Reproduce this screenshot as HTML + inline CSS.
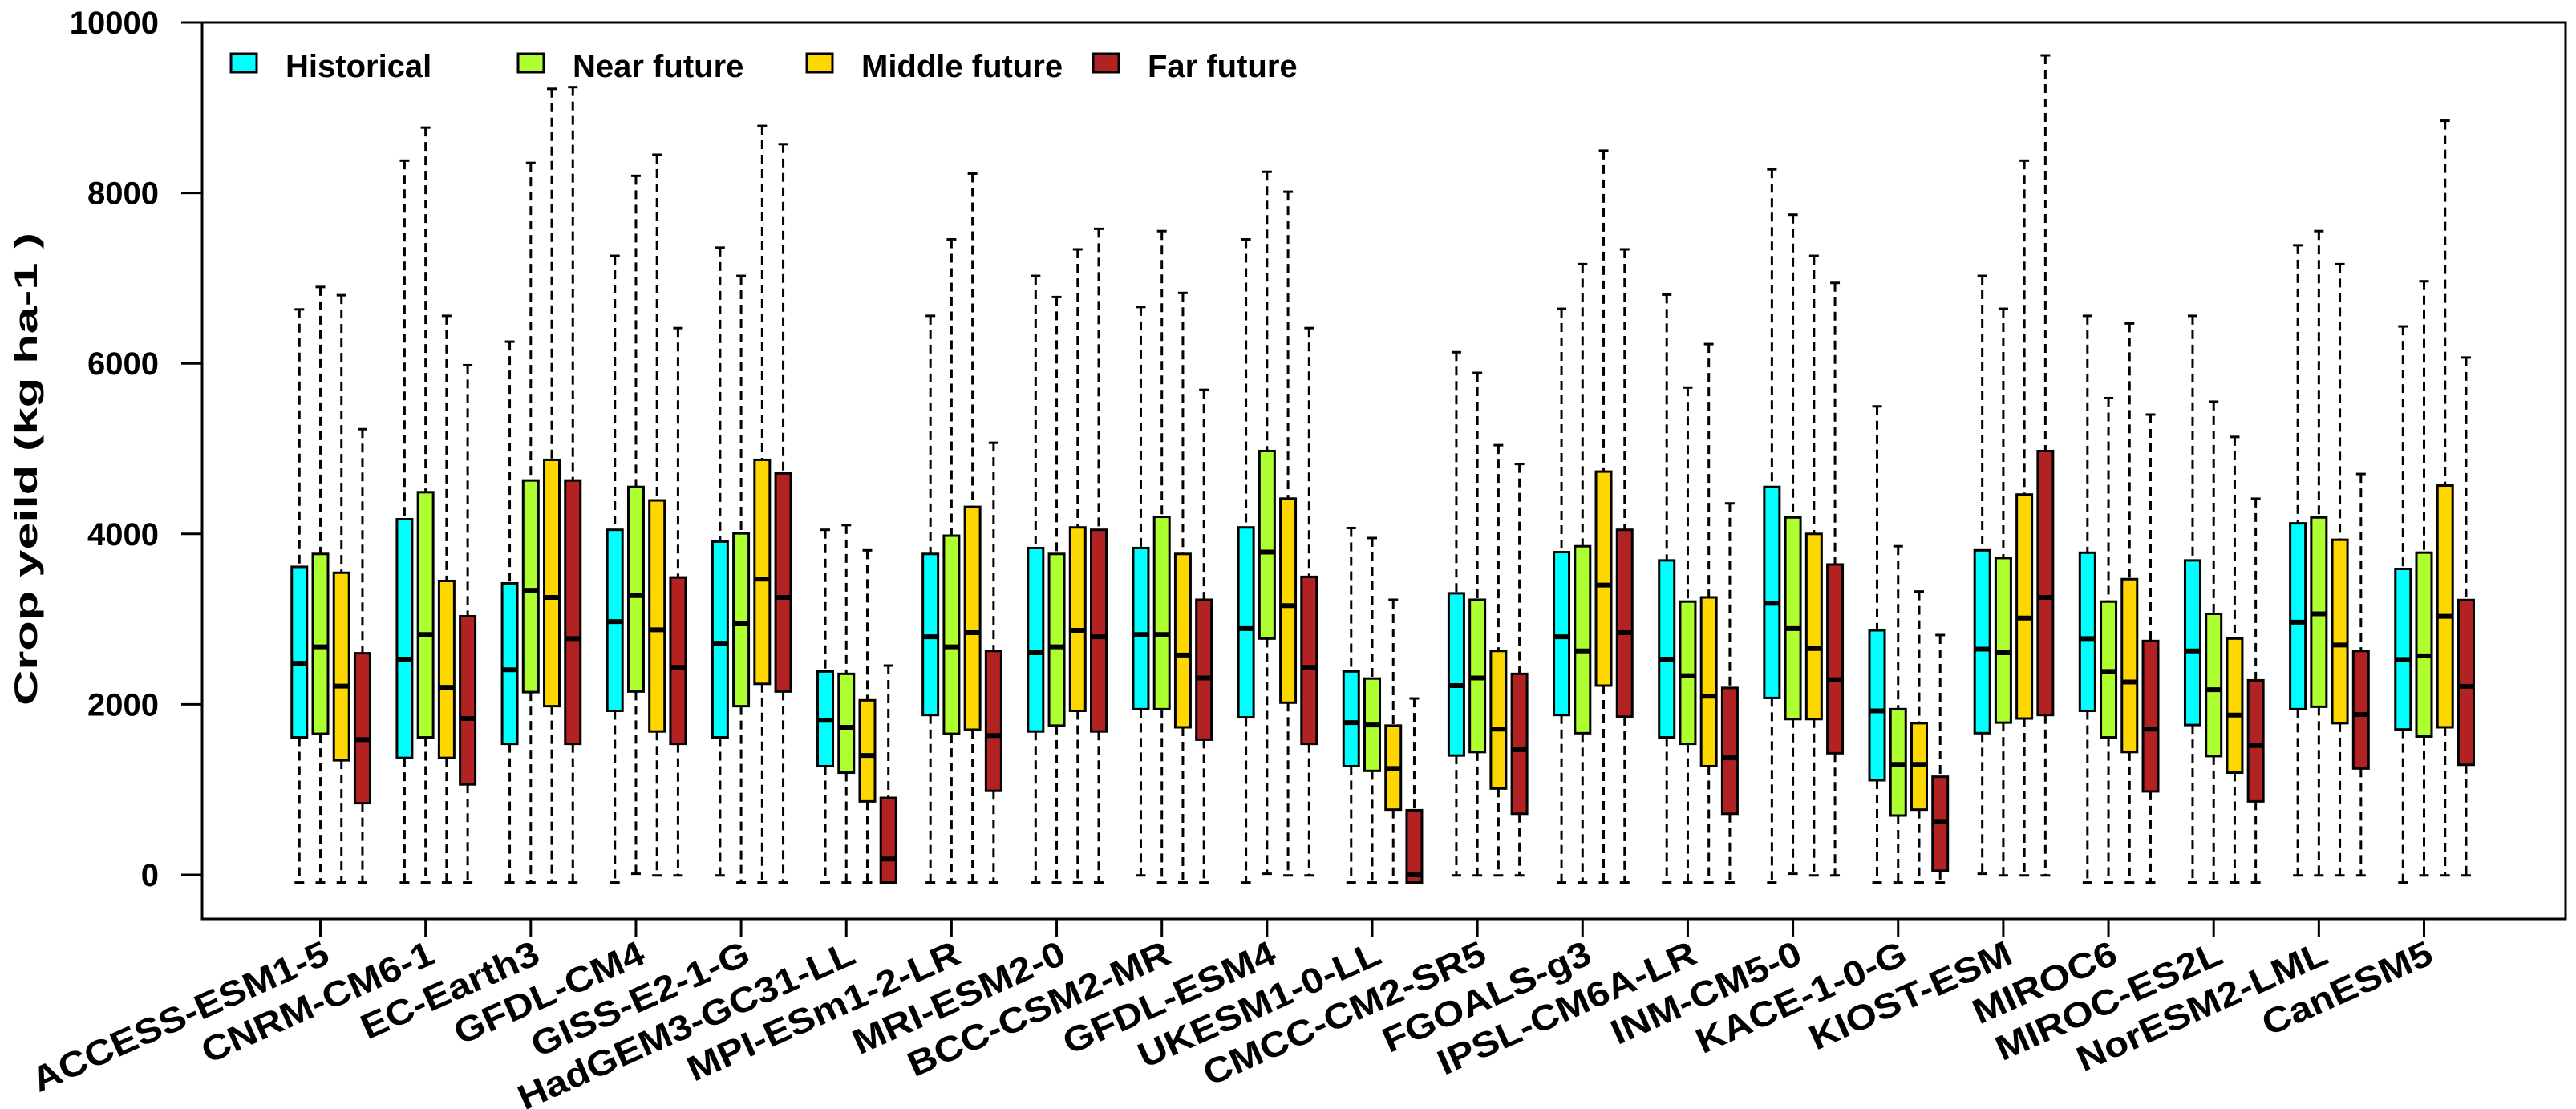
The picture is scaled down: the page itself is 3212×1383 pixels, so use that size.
<!DOCTYPE html>
<html><head><meta charset="utf-8"><style>
html,body{margin:0;padding:0;background:#fff;}
svg{display:block;font-family:"Liberation Sans",Arial,sans-serif;}
</style></head><body>
<svg id="chart" width="3212" height="1383" viewBox="0 0 3212 1383" xmlns="http://www.w3.org/2000/svg">
<rect x="0" y="0" width="3212" height="1383" fill="#fff"/>
<rect x="252" y="28" width="2947" height="1118" fill="none" stroke="#000" stroke-width="3"/>
<g id="yaxis"></g>
<g id="boxes"></g>
<g id="xaxis"></g>
<text transform="translate(46,585) rotate(-90)" text-anchor="middle" font-size="40" font-weight="bold" textLength="590" lengthAdjust="spacingAndGlyphs">Crop yeild (kg ha-1 )</text>
<g>
 <g><rect x="288" y="67" width="32" height="23" fill="#00FFFF" stroke="#000" stroke-width="3"/><text x="356" y="96" font-size="40" font-weight="bold">Historical</text></g>
 <g><rect x="646" y="67" width="32" height="23" fill="#ADFF2F" stroke="#000" stroke-width="3"/><text x="714" y="96" font-size="40" font-weight="bold">Near future</text></g>
 <g><rect x="1006" y="67" width="32" height="23" fill="#FFD700" stroke="#000" stroke-width="3"/><text x="1074" y="96" font-size="40" font-weight="bold">Middle future</text></g>
 <g><rect x="1363" y="67" width="32" height="23" fill="#B22222" stroke="#000" stroke-width="3"/><text x="1431" y="96" font-size="40" font-weight="bold">Far future</text></g>
</g>
</svg>
<script>
const categories = ["ACCESS-ESM1-5","CNRM-CM6-1","EC-Earth3","GFDL-CM4","GISS-E2-1-G","HadGEM3-GC31-LL","MPI-ESm1-2-LR","MRI-ESM2-0","BCC-CSM2-MR","GFDL-ESM4","UKESM1-0-LL","CMCC-CM2-SR5","FGOALS-g3","IPSL-CM6A-LR","INM-CM5-0","KACE-1-0-G","KIOST-ESM","MIROC6","MIROC-ES2L","NorESM2-LML","CanESM5"];
const yTicks = [0,2000,4000,6000,8000,10000];
// each entry: [whisker low, Q1, median, Q3, whisker high]
const historical = [[-90,1613,2482,3613,6634],[-90,1372,2531,4172,8379],[-90,1537,2406,3420,6255],[-90,1924,2972,4048,7262],[-7,1613,2717,3910,7358],[-90,1275,1813,2386,4048],[-90,1875,2793,3765,6558],[-90,1682,2606,3834,7027],[-7,1944,2820,3834,6662],[-90,1848,2889,4076,7455],[-90,1275,1786,2386,4069],[-7,1400,2220,3303,6131],[-90,1875,2793,3786,6641],[-90,1613,2531,3689,6807],[-90,2075,3186,4551,8276],[-90,1110,1924,2869,5496],[13,1662,2648,3807,7027],[-90,1924,2772,3779,6558],[-90,1758,2627,3689,6558],[-7,1944,2965,4124,7386],[-90,1706,2527,3589,6434]];
const nearFuture = [[-90,1655,2675,3765,6897],[-90,1613,2820,4489,8766],[-90,2144,3338,4627,8352],[13,2151,3276,4551,8200],[-90,1979,2944,4006,7027],[-90,1199,1731,2358,4103],[-90,1655,2675,3979,7455],[-90,1751,2675,3765,6779],[-90,1944,2820,4200,7552],[13,2772,3786,4972,8248],[-90,1220,1758,2303,3951],[-7,1441,2310,3227,5889],[-90,1662,2627,3855,7165],[-90,1537,2337,3206,5717],[13,1827,2889,4193,7745],[-90,696,1296,1944,3855],[-7,1786,2606,3717,6641],[-90,1613,2386,3206,5593],[-90,1393,2172,3062,5551],[-7,1972,3062,4193,7552],[-7,1623,2569,3780,6964]];
const middleFuture = [[-90,1344,2214,3544,6800],[-90,1372,2200,3448,6558],[-90,1979,3255,4869,9221],[-7,1682,2875,4393,8448],[-90,2241,3469,4869,8786],[-90,862,1400,2048,3807],[-90,1703,2841,4317,8227],[-90,1924,2869,4076,7338],[-90,1731,2579,3765,6827],[-7,2020,3158,4414,8014],[-90,765,1248,1751,3227],[-7,1013,1710,2627,5041],[-90,2220,3400,4731,8496],[-90,1275,2096,3255,6227],[-7,1827,2655,4000,7262],[-90,765,1296,1779,3324],[-7,1834,3013,4462,8379],[-90,1441,2262,3469,6469],[-90,1199,1875,2772,5138],[-7,1779,2696,3931,7165],[-7,1731,3033,4567,8847]];
const farFuture = [[-90,841,1586,2600,5228],[-90,1061,1834,3034,5979],[-90,1537,2772,4627,9241],[-7,1537,2434,3489,6414],[-90,2151,3255,4710,8572],[-90,-90,186,903,2455],[-90,986,1634,2627,5069],[-90,1682,2793,4048,7579],[-90,1586,2310,3227,5690],[-7,1537,2434,3496,6414],[-90,-90,0,758,2069],[-7,717,1469,2358,4820],[-90,1855,2841,4048,7338],[-90,717,1372,2193,4358],[-7,1427,2289,3641,6945],[-90,48,627,1151,2813],[-7,1875,3255,4972,9614],[-90,979,1710,2744,5400],[-90,862,1517,2282,4413],[-7,1248,1882,2627,4703],[-7,1291,2212,3224,6069]];

const NS = "http://www.w3.org/2000/svg";
const Y0 = 1091, PX_PER = 0.1063;
function yScale(v){ return Y0 - v*PX_PER; }
const GROUP0 = 399.5, GROUP_STEP = 131.15, BOX_STEP = 26.23, BOX_W = 19;
function xScale(g, s){ return GROUP0 + g*GROUP_STEP + (s-1)*BOX_STEP; }
function mk(tag, attrs, parent){
  const e = document.createElementNS(NS, tag);
  for (const k in attrs) e.setAttribute(k, attrs[k]);
  parent.appendChild(e);
  return e;
}
const yaxis = document.getElementById('yaxis');
yTicks.forEach(t => {
  const y = yScale(t);
  const l = mk('line', {x1:226, x2:252, y1:y, y2:y, stroke:'#000', 'stroke-width':3}, yaxis);
  
  
  const tx = mk('text', {x:198, y:y+14, 'text-anchor':'end', 'font-size':40, 'font-weight':'bold'}, yaxis);
  
  
  tx.textContent = t;
});
const series = [historical, nearFuture, middleFuture, farFuture];
const colors = ['#00FFFF','#ADFF2F','#FFD700','#B22222'];
const sNames = ['historical','near-future','middle-future','far-future'];
const boxes = document.getElementById('boxes');
series.forEach((data, s) => {
  data.forEach((d, g) => {
    const cx = xScale(g, s);
    const grp = mk('g', {}, boxes);
    
    
    const lo = yScale(d[0]), q1 = yScale(d[1]), md = yScale(d[2]), q3 = yScale(d[3]), hi = yScale(d[4]);
    mk('line', {x1:cx, x2:cx, y1:hi, y2:q3, stroke:'#000', 'stroke-width':3, 'stroke-dasharray':'11,7'}, grp);
    mk('line', {x1:cx, x2:cx, y1:q1, y2:lo, stroke:'#000', 'stroke-width':3, 'stroke-dasharray':'11,7'}, grp);
    mk('line', {x1:cx-6, x2:cx+6, y1:hi, y2:hi, stroke:'#000', 'stroke-width':3}, grp);
    mk('line', {x1:cx-6, x2:cx+6, y1:lo, y2:lo, stroke:'#000', 'stroke-width':3}, grp);
    mk('rect', {x:cx-BOX_W/2, y:q3, width:BOX_W, height:Math.max(1,q1-q3), fill:colors[s], stroke:'#000', 'stroke-width':3}, grp);
    mk('line', {x1:cx-BOX_W/2, x2:cx+BOX_W/2, y1:md, y2:md, stroke:'#000', 'stroke-width':6}, grp);
  });
});
const xaxis = document.getElementById('xaxis');
categories.forEach((c, g) => {
  const x = xScale(g, 1);
  const l = mk('line', {x1:x, x2:x, y1:1146, y2:1169, stroke:'#000', 'stroke-width':3}, xaxis);
  
  
  const tx = mk('text', {transform:'translate(' + (x+14) + ',1200) rotate(-24) scale(1.12,1)', 'text-anchor':'end', 'font-size':44, 'font-weight':'bold'}, xaxis);
  
  
  tx.textContent = c;
});
</script>
</body></html>
